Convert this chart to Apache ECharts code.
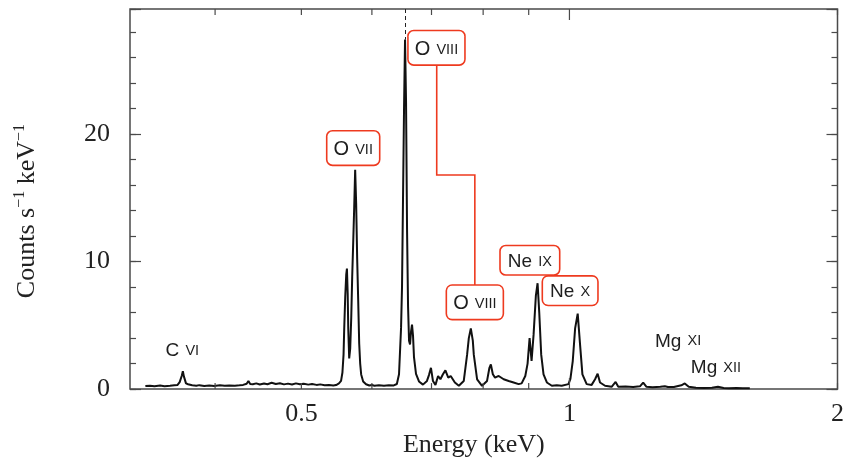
<!DOCTYPE html>
<html>
<head>
<meta charset="utf-8">
<script src="https://cdn.jsdelivr.net/npm/echarts@6/dist/echarts.min.js"></script>
<style>
  html, body { margin: 0; padding: 0; background: #ffffff; }
  #chart { width: 847px; height: 463px; }
</style>
</head>
<body>
<div id="chart"></div>
<script>
// X-ray spectrum: energy bins (keV) and count rate (counts s^-1 keV^-1)
const energy = [
  0.334, 0.338, 0.342, 0.347, 0.351, 0.356, 0.360, 0.363, 0.365, 0.367,
  0.368, 0.369, 0.371, 0.373, 0.377, 0.381, 0.384, 0.389, 0.394, 0.399,
  0.405, 0.410, 0.415, 0.421, 0.426, 0.430, 0.434, 0.436, 0.438, 0.441,
  0.445, 0.449, 0.454, 0.458, 0.463, 0.468, 0.473, 0.478, 0.483, 0.488,
  0.493, 0.498, 0.503, 0.509, 0.514, 0.520, 0.525, 0.531, 0.537, 0.543,
  0.547, 0.551, 0.554, 0.556, 0.5576, 0.5586, 0.5600, 0.5615, 0.5625, 0.5636,
  0.5644, 0.5658, 0.5673, 0.5688, 0.5702, 0.5717, 0.5732, 0.5746, 0.5761, 0.5776,
  0.5791, 0.5806, 0.5821, 0.5836, 0.5866, 0.591, 0.596, 0.600, 0.604, 0.611,
  0.619, 0.627, 0.635, 0.640, 0.6436, 0.6470, 0.6486, 0.6503, 0.6520, 0.6537,
  0.6554, 0.6571, 0.6588, 0.6605, 0.6622, 0.6639, 0.6656, 0.6673, 0.6690, 0.6725,
  0.6777, 0.6847, 0.6918, 0.6954, 0.6990, 0.7026, 0.7072, 0.7120, 0.7163, 0.7210,
  0.7256, 0.7310, 0.7356, 0.7436, 0.7513, 0.7609, 0.7675, 0.7709, 0.7749, 0.7789,
  0.7809, 0.7876, 0.7977, 0.8081, 0.8131, 0.8161, 0.8203, 0.8250, 0.8328, 0.8436,
  0.8546, 0.8656, 0.8769, 0.8837, 0.8921, 0.8974, 0.9021, 0.9067, 0.9114, 0.9168,
  0.9209, 0.9249, 0.9296, 0.9352, 0.9433, 0.9555, 0.9678, 0.9803, 0.9975, 1.0025,
  1.0086, 1.0148, 1.0216, 1.0279, 1.0341, 1.0456, 1.0591, 1.0685, 1.0756, 1.0823,
  1.0964, 1.1152, 1.1268, 1.1346, 1.1560, 1.1790, 1.2000, 1.2101, 1.2205, 1.2400,
  1.2650, 1.2797, 1.2900, 1.3100, 1.3356, 1.3474, 1.3613, 1.3870, 1.4160, 1.4456,
  1.4681, 1.4900, 1.5100, 1.5400, 1.5650, 1.5942
];
const counts = [
  0.24, 0.27, 0.22, 0.28, 0.23, 0.26, 0.30, 0.33, 0.55, 1.05,
  1.41, 1.00, 0.45, 0.38, 0.30, 0.26, 0.31, 0.25, 0.28, 0.24,
  0.30, 0.26, 0.29, 0.27, 0.30, 0.33, 0.42, 0.64, 0.40, 0.38,
  0.45, 0.36, 0.44, 0.38, 0.50, 0.40, 0.46, 0.37, 0.43, 0.36,
  0.45, 0.38, 0.42, 0.35, 0.40, 0.33, 0.37, 0.30, 0.32, 0.28,
  0.32, 0.45, 0.64, 1.30, 2.70, 4.80, 7.20, 9.00, 9.45, 7.50,
  4.80, 2.40, 3.20, 5.60, 8.80, 11.5, 14.3, 17.2, 14.5, 10.2,
  7.0, 3.6, 2.0, 1.15, 0.60, 0.38, 0.28, 0.32, 0.26, 0.30,
  0.27, 0.31, 0.29, 0.40, 1.16, 4.8, 8.0, 15.0, 22.0, 27.4,
  22.5, 12.5, 6.5, 3.8, 3.5, 4.5, 5.05, 4.2, 2.5, 1.2,
  0.60, 0.35, 0.64, 1.10, 1.67, 0.64, 0.33, 1.03, 0.77, 1.16,
  1.47, 0.90, 1.03, 0.52, 0.26, 0.64, 2.70, 4.00, 4.76, 3.80,
  2.70, 0.77, 0.26, 0.64, 1.67, 1.93, 1.16, 0.90, 1.03, 0.77,
  0.64, 0.52, 0.39, 0.45, 1.03, 2.00, 4.00, 2.20, 4.25, 7.30,
  8.30, 6.00, 2.70, 1.16, 0.52, 0.26, 0.30, 0.27, 0.39, 0.80,
  2.20, 4.76, 5.92, 3.47, 1.16, 0.39, 0.33, 0.77, 1.21, 0.52,
  0.26, 0.18, 0.56, 0.18, 0.20, 0.16, 0.22, 0.51, 0.18, 0.15,
  0.18, 0.22, 0.16, 0.17, 0.30, 0.44, 0.18, 0.10, 0.08, 0.10,
  0.18, 0.09, 0.07, 0.08, 0.06, 0.07
];

// Axis ranges and ticks
const energyRange = [0.321, 2];
const countRange = [0, 29.8];
const xTickValues = [0.4, 0.5, 0.6, 0.7, 0.8, 0.9, 1, 2];
const xMajorTicks = [1];
const xLabelValues = [0.5, 1, 2];

// O VIII Ly-alpha marker
const oviiiEnergy = 0.6537;
const oviiiPeak = 27.4;

// Line identifications: element, ion stage, anchor (keV, counts), boxed or plain
const lineIds = [
  { el: 'C',  ion: 'VI',   e: 0.3675, c: 3.09,  boxed: false },
  { el: 'O',  ion: 'VII',  e: 0.5717, c: 18.9,  boxed: true },
  { el: 'O',  ion: 'VIII', e: 0.7090, c: 26.76, boxed: true },
  { el: 'O',  ion: 'VIII', e: 0.7830, c: 6.80,  boxed: true },
  { el: 'Ne', ion: 'IX',   e: 0.9027, c: 10.10, boxed: true },
  { el: 'Ne', ion: 'X',    e: 1.0018, c: 7.72,  boxed: true },
  { el: 'Mg', ion: 'XI',   e: 1.3244, c: 3.86,  boxed: false },
  { el: 'Mg', ion: 'XII',  e: 1.4605, c: 1.81,  boxed: false }
];
// Elbow connector between the two O VIII boxes (keV, counts)
const connectorPath = [[0.7095, 25.45], [0.7095, 16.78], [0.783, 16.78], [0.783, 8.1]];

const RED = '#ee3a1f';
const FRAME = '#4a4a4a';
const INK = '#1e1e1e';
const SERIF = '"Liberation Serif", "Times New Roman", serif';
const SANS = '"Liberation Sans", Arial, sans-serif';

const chart = echarts.init(document.getElementById('chart'), null, { renderer: 'canvas' });

function yAxisCfg(pos, interval, len, withLabels) {
  const cfg = {
    type: 'value', position: pos, min: countRange[0], max: countRange[1], interval: interval,
    axisLine: { show: false },
    axisTick: { show: true, inside: true, length: len, lineStyle: { color: FRAME, width: 1.2 } },
    axisLabel: { show: false },
    splitLine: { show: false }
  };
  if (withLabels) {
    cfg.axisLabel = {
      show: true, margin: 20, fontSize: 26, fontFamily: SERIF, color: '#222',
      formatter: v => (Math.abs(v % 10) < 1e-6 ? String(v) : '')
    };
    cfg.name = '{n|Counts s}{sup|−1}{n| keV}{sup|−1}';
    cfg.nameLocation = 'middle';
    cfg.nameGap = 88;
    cfg.nameTextStyle = {
      padding: [0, 24, 0, 0],
      rich: {
        n: { fontSize: 26, fontFamily: SERIF, color: '#222', lineHeight: 30 },
        sup: { fontSize: 16, fontFamily: SERIF, color: '#222', verticalAlign: 'top', lineHeight: 16 }
      }
    };
  }
  return cfg;
}

const option = {
  animation: false,
  backgroundColor: '#ffffff',
  textStyle: { fontFamily: SERIF },
  grid: {
    left: 130, right: 8, top: 9, bottom: 68,
    show: true, borderColor: FRAME, borderWidth: 1.5, backgroundColor: 'transparent'
  },
  xAxis: [{
    type: 'log', logBase: 2, min: energyRange[0], max: energyRange[1], position: 'bottom',
    axisLine: { show: false },
    axisTick: { show: false },
    splitLine: { show: false },
    minorTick: { show: false },
    axisLabel: {
      margin: 12, fontSize: 26, fontFamily: SERIF, color: '#222',
      showMinLabel: false,
      formatter: v => {
        const hit = xLabelValues.find(t => Math.abs(t - v) < 1e-6 * t + 1e-9);
        return hit === undefined ? '' : String(hit);
      }
    },
    name: 'Energy (keV)', nameLocation: 'middle', nameGap: 41,
    nameTextStyle: { fontSize: 26, fontFamily: SERIF, color: '#222', padding: [0, 20, 0, 0] }
  }],
  yAxis: [
    yAxisCfg('left', 10, 11, true),
    yAxisCfg('left', 2, 6, false),
    yAxisCfg('right', 10, 11, false),
    yAxisCfg('right', 2, 6, false)
  ],
  series: [
    {
      name: 'spectrum', type: 'line', xAxisIndex: 0, yAxisIndex: 0,
      data: energy.map((e, i) => [e, counts[i]]),
      showSymbol: false, symbol: 'none', smooth: false,
      lineStyle: { color: '#111', width: 2 },
      z: 3,
      markLine: {
        silent: true, symbol: 'none',
        label: { show: false },
        lineStyle: { color: '#222', type: [4, 3], width: 1 },
        data: [[{ coord: [oviiiEnergy, countRange[1]] }, { coord: [oviiiEnergy, oviiiPeak] }]]
      }
    },
    {
      // frame ticks along the top and bottom energy axes
      name: 'energyTicks', type: 'custom', xAxisIndex: 0, yAxisIndex: 0, clip: false, silent: true,
      data: xTickValues.map(v => [v, 0]),
      encode: { x: 0, y: 1 },
      renderItem: (params, api) => {
        const v = api.value(0);
        const len = xMajorTicks.indexOf(v) >= 0 ? 11 : 6;
        const b = api.coord([v, countRange[0]]);
        const t = api.coord([v, countRange[1]]);
        const st = { stroke: FRAME, lineWidth: 1.2 };
        return {
          type: 'group', children: [
            { type: 'line', shape: { x1: b[0], y1: b[1], x2: b[0], y2: b[1] - len }, style: st },
            { type: 'line', shape: { x1: t[0], y1: t[1], x2: t[0], y2: t[1] + len }, style: st }
          ]
        };
      },
      z: 4
    },
    {
      name: 'connector', type: 'custom', xAxisIndex: 0, yAxisIndex: 0, silent: true,
      data: [connectorPath[0]],
      encode: { x: 0, y: 1 },
      renderItem: (params, api) => ({
        type: 'polyline',
        shape: { points: connectorPath.map(p => api.coord(p)) },
        style: { stroke: RED, lineWidth: 1.6, fill: null }
      }),
      z: 5
    },
    {
      name: 'lineIds', type: 'custom', xAxisIndex: 0, yAxisIndex: 0, clip: false, silent: true,
      data: lineIds.map(d => [d.e, d.c]),
      encode: { x: 0, y: 1 },
      renderItem: (params, api) => {
        const d = lineIds[params.dataIndex];
        const p = api.coord([d.e, d.c]);
        const big = d.el === 'O' ? 20 : 19;
        const style = {
          text: '{a|' + d.el + '}{s| }{b|' + d.ion + '}',
          x: p[0], y: p[1], align: 'center', verticalAlign: 'middle',
          rich: {
            a: { fontSize: big, fontFamily: SANS, fill: INK, lineHeight: 22, verticalAlign: 'bottom' },
            s: { fontSize: 22, fontFamily: SANS, lineHeight: 22, verticalAlign: 'bottom' },
            b: { fontSize: 14.5, fontFamily: SANS, fill: INK, lineHeight: 16, verticalAlign: 'bottom', padding: [0, 0, 2, 0] }
          }
        };
        if (d.boxed) {
          Object.assign(style, {
            backgroundColor: '#ffffff', borderColor: RED, borderWidth: 1.6, borderRadius: 5,
            padding: d.el === 'O' ? [6, 6, 5, 6] : [3, 7, 3, 7]
          });
        }
        return { type: 'text', style: style, z2: 10 };
      },
      z: 6
    }
  ]
};

chart.setOption(option);
</script>
</body>
</html>
